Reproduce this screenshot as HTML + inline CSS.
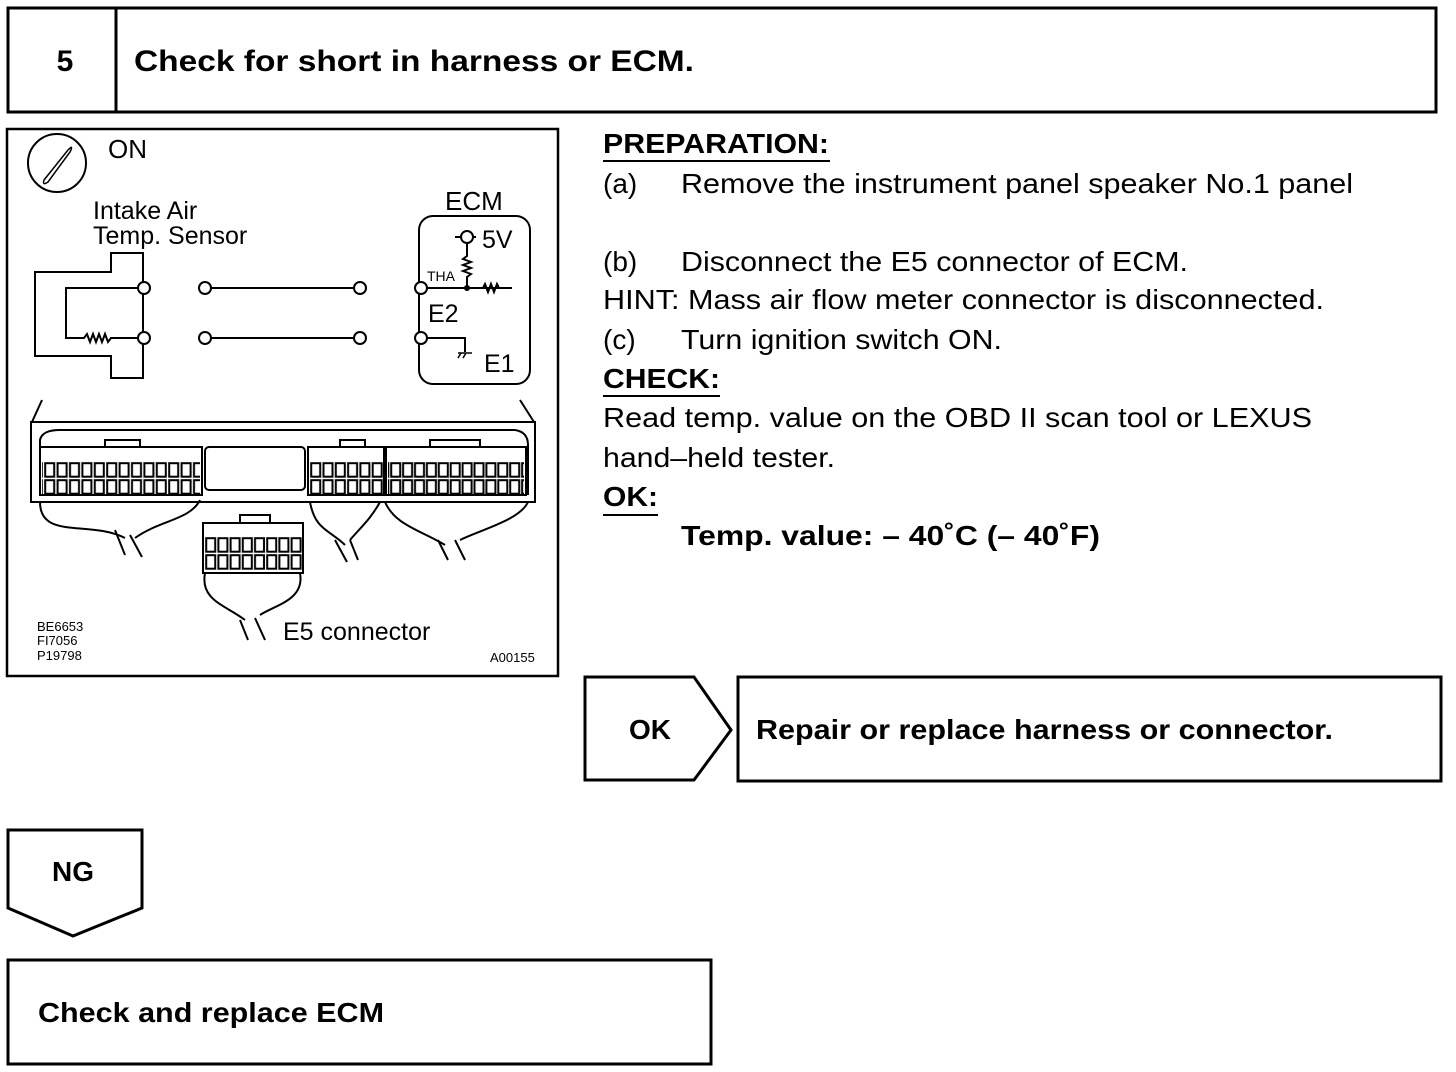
<!DOCTYPE html>
<html><head><meta charset="utf-8"><style>
html,body{margin:0;padding:0;background:#fff;}
svg{display:block;}
text{font-family:"Liberation Sans",sans-serif;fill:#000;}
</style></head><body>
<svg width="1456" height="1072" viewBox="0 0 1456 1072" xmlns="http://www.w3.org/2000/svg">
<defs>
<pattern id="c1" x="44" y="462" width="12.4" height="17" patternUnits="userSpaceOnUse"><rect x="1.2" y="1.2" width="9" height="13.5" fill="none" stroke="#000" stroke-width="2"/></pattern>
<pattern id="c2" x="310" y="462" width="12.3" height="17" patternUnits="userSpaceOnUse"><rect x="1.2" y="1.2" width="9" height="13.5" fill="none" stroke="#000" stroke-width="2"/></pattern>
<pattern id="c3" x="390" y="462" width="11.9" height="17" patternUnits="userSpaceOnUse"><rect x="1.2" y="1.2" width="9" height="13.5" fill="none" stroke="#000" stroke-width="2"/></pattern>
<pattern id="c4" x="205" y="537" width="12.2" height="17" patternUnits="userSpaceOnUse"><rect x="1.2" y="1.2" width="9" height="13.5" fill="none" stroke="#000" stroke-width="2"/></pattern>
</defs>
<g fill="none" stroke="#000" stroke-width="3">
<rect x="8" y="8" width="1428" height="104"/>
<line x1="116" y1="8" x2="116" y2="112"/>
<rect x="7" y="129" width="551" height="547" stroke-width="2.5"/>
<polygon points="585,677 694,677 731,730 694,780 585,780"/>
<rect x="738" y="677" width="703" height="104"/>
<polygon points="8,830 142,830 142,908 73,936 8,908"/>
<rect x="8" y="960" width="703" height="104"/>
</g>
<text x="65" y="71" font-size="30" font-weight="bold" text-anchor="middle">5</text>
<text x="134" y="71" font-size="30" font-weight="bold" textLength="560" lengthAdjust="spacingAndGlyphs">Check for short in harness or ECM.</text>
<text x="650" y="739" font-size="28" font-weight="bold" text-anchor="middle">OK</text>
<text x="756" y="739" font-size="28" font-weight="bold" textLength="577" lengthAdjust="spacingAndGlyphs">Repair or replace harness or connector.</text>
<text x="73" y="881" font-size="28" font-weight="bold" text-anchor="middle">NG</text>
<text x="38" y="1022" font-size="28" font-weight="bold" textLength="346" lengthAdjust="spacingAndGlyphs">Check and replace ECM</text>

<!-- right text -->
<g font-size="28">
<text x="603" y="153" font-weight="bold" textLength="226" lengthAdjust="spacingAndGlyphs">PREPARATION:</text>
<line x1="603" y1="161" x2="830" y2="161" stroke="#000" stroke-width="2"/>
<text x="603" y="193">(a)</text>
<text x="681" y="193" textLength="672" lengthAdjust="spacingAndGlyphs">Remove the instrument panel speaker No.1 panel</text>
<text x="603" y="271">(b)</text>
<text x="681" y="271" textLength="507" lengthAdjust="spacingAndGlyphs">Disconnect the E5 connector of ECM.</text>
<text x="603" y="309" textLength="721" lengthAdjust="spacingAndGlyphs">HINT: Mass air flow meter connector is disconnected.</text>
<text x="603" y="349">(c)</text>
<text x="681" y="349" textLength="321" lengthAdjust="spacingAndGlyphs">Turn ignition switch ON.</text>
<text x="603" y="388" font-weight="bold" textLength="117" lengthAdjust="spacingAndGlyphs">CHECK:</text>
<line x1="603" y1="396" x2="720" y2="396" stroke="#000" stroke-width="2"/>
<text x="603" y="427" textLength="709" lengthAdjust="spacingAndGlyphs">Read temp. value on the OBD II scan tool or LEXUS</text>
<text x="603" y="467" textLength="232" lengthAdjust="spacingAndGlyphs">hand–held tester.</text>
<text x="603" y="506" font-weight="bold" textLength="55" lengthAdjust="spacingAndGlyphs">OK:</text>
<line x1="603" y1="515" x2="658" y2="515" stroke="#000" stroke-width="2"/>
<text x="681" y="545" font-weight="bold" textLength="419" lengthAdjust="spacingAndGlyphs">Temp. value:  – 40˚C (– 40˚F)</text>
</g>

<!-- diagram -->
<g fill="none" stroke="#000" stroke-width="2">
<circle cx="57" cy="163" r="29"/>
<path d="M44,180 L68,150 Q74,144 70,152 L48,182 Q42,186 44,180 Z" stroke-width="1.5"/>
<path d="M35,272 H111 V253 H143 V378 H111 V356 H35 Z"/>
<path d="M143,288 H66 V338 H84 l3,-4 3,8 3,-8 3,8 3,-8 3,8 3,-8 3,8 3,-4 H138"/>
<line x1="211" y1="288" x2="354" y2="288"/>
<line x1="211" y1="338" x2="354" y2="338"/>
<rect x="419" y="216" width="111" height="168" rx="14"/>
<line x1="421" y1="288" x2="512" y2="288"/>
<path d="M467,242 V256 l-4,3 8,3 -8,3 8,3 -8,3 8,3 -4,3 V288"/>
<path d="M475,288 H483 l2,-4 3,8 3,-8 3,8 3,-8 2,4 H512"/>
<line x1="455" y1="237" x2="476" y2="237"/>
<path d="M421,338 H465 V352"/>
<path d="M458,353 h14 M461,353 l-3,5 M466,353 l-3,5" stroke-width="1.5"/>
</g>
<g fill="#fff" stroke="#000" stroke-width="2">
<circle cx="144" cy="288" r="6"/><circle cx="144" cy="338" r="6"/>
<circle cx="205" cy="288" r="6"/><circle cx="205" cy="338" r="6"/>
<circle cx="360" cy="288" r="6"/><circle cx="360" cy="338" r="6"/>
<circle cx="421" cy="288" r="6"/><circle cx="421" cy="338" r="6"/>
<circle cx="467" cy="237" r="6"/>
</g>
<circle cx="467" cy="288" r="3" fill="#000"/>
<text x="108" y="158" font-size="26">ON</text>
<text x="93" y="219" font-size="25">Intake Air</text>
<text x="93" y="244" font-size="25">Temp. Sensor</text>
<text x="445" y="210" font-size="26">ECM</text>
<text x="482" y="248" font-size="25">5V</text>
<text x="427" y="281" font-size="14">THA</text>
<text x="428" y="322" font-size="25">E2</text>
<text x="484" y="372" font-size="25">E1</text>

<!-- connector -->
<g fill="none" stroke="#000" stroke-width="2">
<path d="M42,400 L32,422 M520,400 L534,422"/>
<rect x="31" y="422" width="504" height="80"/>
<path d="M40,495 V440 Q42,430 60,430 H515 Q528,432 528,445 V495"/>
<rect x="40" y="447" width="162" height="48"/>
<rect x="205" y="447" width="100" height="43" rx="4"/>
<rect x="308" y="447" width="76" height="48"/>
<rect x="386" y="447" width="140" height="48"/>
<path d="M105,447 V440 H140 V447 M340,447 V440 H365 V447 M430,447 V440 H480 V447"/>
<rect x="203" y="523" width="100" height="50"/>
<path d="M240,523 V515 H270 V523"/>
<path d="M40,502 C40,540 90,520 125,538 M200,500 C190,520 160,520 135,538 M115,530 l10,25 M130,535 l12,22"/>
<path d="M310,502 C315,530 330,530 345,545 M380,502 C370,520 360,528 350,540 M335,540 l12,22 M350,540 l8,20"/>
<path d="M385,502 C395,525 420,530 445,545 M528,502 C520,520 480,530 460,540 M438,540 l10,20 M455,540 l10,20"/>
<path d="M205,573 C200,600 225,605 245,620 M300,573 C305,600 275,605 260,615 M240,620 l8,20 M255,618 l10,22"/>
</g>
<rect x="42" y="462" width="158" height="34" fill="url(#c1)"/>
<rect x="309" y="462" width="74" height="34" fill="url(#c2)"/>
<rect x="388" y="462" width="136" height="34" fill="url(#c3)"/>
<rect x="204" y="537" width="98" height="34" fill="url(#c4)"/>
<text x="283" y="640" font-size="25">E5 connector</text>
<text x="37" y="631" font-size="13">BE6653</text>
<text x="37" y="645" font-size="13">FI7056</text>
<text x="37" y="660" font-size="13">P19798</text>
<text x="490" y="662" font-size="13">A00155</text>
</svg>
</body></html>
